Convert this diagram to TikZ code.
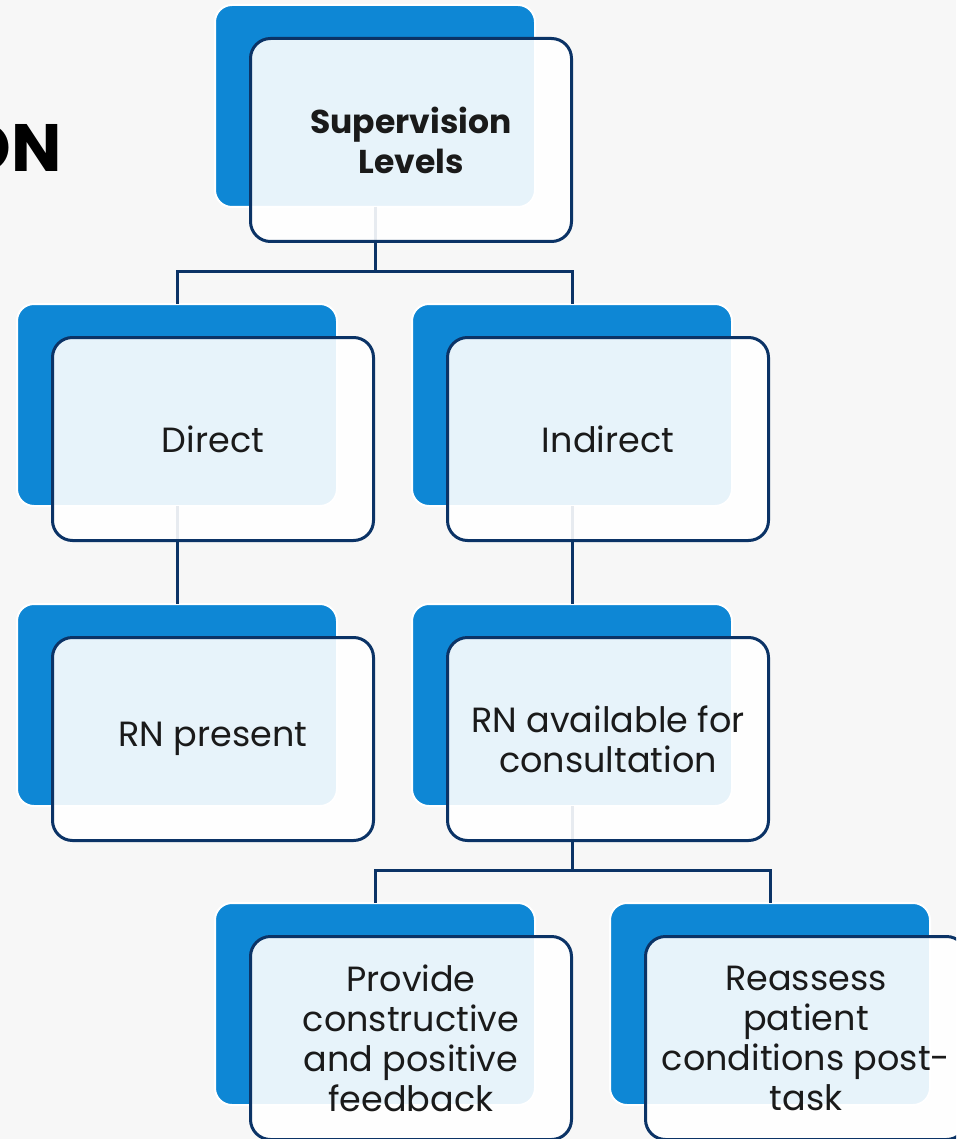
\documentclass[tikz,border=0pt]{standalone}
\usepackage{fontspec}
\setmainfont{Poppins}
\definecolor{bgc}{HTML}{F7F7F7}
\definecolor{backblue}{HTML}{0E87D5}
\definecolor{navy}{HTML}{0B3366}
\definecolor{txt}{HTML}{1A1A1A}
\tikzset{
  backbox/.style={fill=backblue, draw=white, line width=2pt, rounded corners=17pt,
    minimum width=320pt, minimum height=202pt, inner sep=0pt, outer sep=0pt},
  frontbox/.style={fill=white, fill opacity=0.9, text opacity=1, draw=navy, draw opacity=1,
    line width=3pt, rounded corners=20pt, minimum width=321pt, minimum height=203pt,
    inner sep=0pt, outer sep=0pt, align=center, text=txt,
    font=\fontsize{35pt}{40pt}\selectfont},
  conn/.style={draw=navy, line width=3pt}
}
\begin{document}
\begin{tikzpicture}[x=1pt,y=-1pt]
\useasboundingbox (0,0) rectangle (956,1139);
\fill[bgc] (0,0) rectangle (956,1139);
\clip (0,0) rectangle (956,1139);

\node[anchor=base east, inner sep=0pt, font=\bfseries\fontsize{67pt}{67pt}\selectfont, text=black] (title) at (62,172) {ON};

% back boxes
\node[backbox] (b0) at (375,106) {};
\node[backbox] (b1a) at (177,405) {};
\node[backbox] (b1b) at (572,405) {};
\node[backbox] (b2a) at (177,705) {};
\node[backbox] (b2b) at (572,705) {};
\node[backbox] (b3a) at (375,1004) {};
\node[backbox] (b3b) at (770,1004) {};

% connectors
\coordinate (j0) at (375,272);
\coordinate (j2) at (572,870);
\draw[conn] (b0.south) -- (j0);
\draw[conn] (j0) -| (b1a.north);
\draw[conn] (j0) -| (b1b.north);
\draw[conn] (b1a.south) -- (b2a.north);
\draw[conn] (b1b.south) -- (b2b.north);
\draw[conn] (b2b.south) -- (j2);
\draw[conn] (j2) -| (b3a.north);
\draw[conn] (j2) -| (b3b.north);

% front boxes
\node[frontbox, font=\bfseries\fontsize{33pt}{40pt}\selectfont] (f0) at (411,140) {Supervision\\Levels};
\node[frontbox] (f1a) at (213,439) {Direct};
\node[frontbox] (f1b) at (608,439) {Indirect};
\node[frontbox] (f2a) at (213,739) {RN present};
\node[frontbox] (f2b) at (608,739) {RN available for\\consultation};
\node[frontbox] (f3a) at (411,1038) {Provide\\constructive\\and positive\\feedback};
\node[frontbox] (f3b) at (806,1038) {Reassess\\patient\\conditions post-\\task};
\end{tikzpicture}
\end{document}
